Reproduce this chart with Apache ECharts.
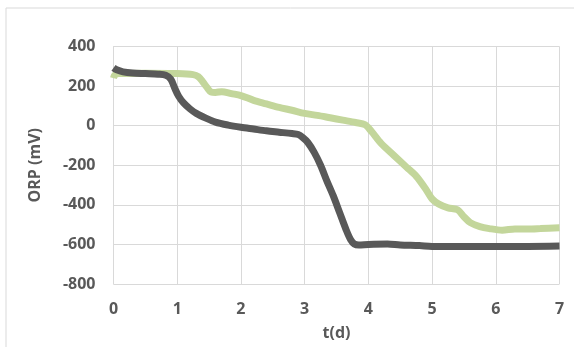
<!DOCTYPE html>
<html>
<head>
<meta charset="utf-8">
<script src="https://cdn.jsdelivr.net/npm/echarts@6/dist/echarts.min.js"></script>
<style>
html,body{margin:0;padding:0;background:#fff;}
#c{width:574px;height:347px;}
</style>
</head>
<body>
<div id="c"></div>
<script>
// Data
const xTicks = [0, 1, 2, 3, 4, 5, 6, 7];
const yTicks = [-800, -600, -400, -200, 0, 200, 400];

const darkT = [0, 0.05, 0.15, 0.3, 0.5, 0.7, 0.82, 0.9, 0.96, 1.02, 1.1, 1.2, 1.3, 1.45, 1.6, 1.8, 2.0, 2.2, 2.4, 2.6, 2.8, 2.9, 2.97, 3.05, 3.15, 3.25, 3.35, 3.45, 3.55, 3.65, 3.72, 3.78, 3.85, 4.0, 4.3, 4.5, 4.8, 5.0, 5.5, 6.0, 6.5, 7.0];
const darkV = [292, 282, 272, 266, 263, 260, 255, 235, 190, 150, 115, 85, 62, 38, 18, 3, -8, -17, -26, -33, -40, -45, -60, -85, -135, -200, -280, -355, -440, -525, -575, -598, -603, -600, -598, -603, -606, -610, -610, -610, -610, -608];

const greenT = [0, 0.02, 0.08, 0.5, 1.0, 1.25, 1.33, 1.4, 1.47, 1.53, 1.6, 1.7, 1.85, 2.0, 2.2, 2.4, 2.6, 2.8, 3.0, 3.2, 3.4, 3.6, 3.8, 3.95, 4.05, 4.2, 4.4, 4.6, 4.75, 4.9, 5.0, 5.1, 5.25, 5.4, 5.5, 5.6, 5.75, 5.9, 6.1, 6.3, 6.5, 6.7, 7.0];
const greenV = [240, 255, 263, 265, 263, 258, 248, 222, 192, 170, 168, 172, 162, 152, 128, 110, 92, 78, 62, 52, 40, 28, 16, 5, -30, -90, -150, -210, -255, -320, -370, -395, -415, -425, -460, -490, -510, -520, -528, -522, -522, -520, -516];

const xName = 't(d)';
const yName = 'ORP (mV)';

function pairs(t, v) { return t.map((x, i) => [x, v[i]]); }

const labelFont = { color: '#595959', fontWeight: 'bold', fontSize: 16, fontFamily: 'Open Sans' };

const chart = echarts.init(document.getElementById('c'));
chart.setOption({
  animation: false,
  backgroundColor: '#fff',
  graphic: [{
    type: 'rect',
    shape: { x: 6, y: 8, width: 700, height: 500 },
    style: { fill: 'none', stroke: '#d9d9d9', lineWidth: 1 },
    silent: true, z: -1
  }],
  grid: { left: 113.5, right: 14.5, top: 46.5, bottom: 63 },
  xAxis: {
    type: 'value', min: 0, max: 7, interval: 1,
    name: xName, nameLocation: 'middle', nameGap: 41,
    nameTextStyle: labelFont,
    axisLine: { show: true, lineStyle: { color: '#d9d9d9' } },
    axisTick: { show: false },
    axisLabel: Object.assign({ margin: 17 }, labelFont),
    splitLine: { show: true, lineStyle: { color: '#d9d9d9' } }
  },
  yAxis: {
    type: 'value', min: -800, max: 400, interval: 200,
    name: yName, nameLocation: 'middle', nameGap: 70, nameRotate: 90,
    nameTextStyle: labelFont,
    axisLine: { show: true, lineStyle: { color: '#d9d9d9' } },
    axisTick: { show: false },
    axisLabel: Object.assign({ margin: 18 }, labelFont),
    splitLine: { show: true, lineStyle: { color: '#d9d9d9' } }
  },
  series: [
    {
      type: 'line', data: pairs(greenT, greenV), showSymbol: false, smooth: 0.3,
      lineStyle: { color: '#c3d69b', width: 7 }, z: 2
    },
    {
      type: 'line', data: pairs(darkT, darkV), showSymbol: false, smooth: 0.3,
      lineStyle: { color: '#595959', width: 7 }, z: 3
    }
  ]
});
</script>
</body>
</html>
